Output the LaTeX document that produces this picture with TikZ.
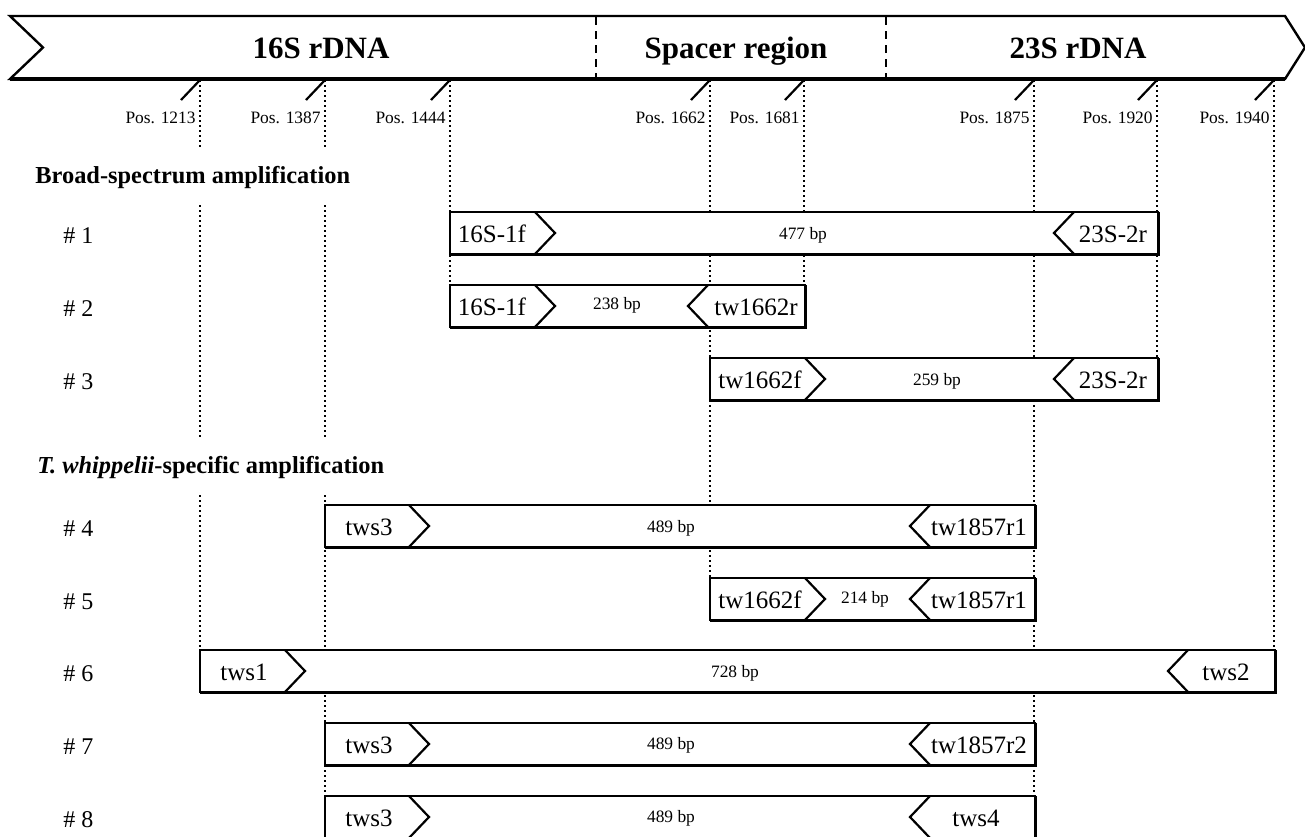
\documentclass[tikz,border=0pt]{standalone}
\usepackage{fontspec}
\setmainfont{Liberation Serif}
\newcommand\ampbox[4]{%
  \draw[boxframe] (#2,#4-21) rectangle (#3,#4+21);
  \draw[boxshade] (#2,#4+21) -- (#3,#4+21) -- (#3,#4-21);
  \coordinate (#1) at ({(#2+#3)/2},#4);}
\newcommand\fwdchev[2]{\draw[chev] (#1,#2-21) -- (#1+20,#2) -- (#1,#2+21);}
\newcommand\revchev[2]{\draw[chev] (#1,#2-21) -- (#1-20,#2) -- (#1,#2+21);}
\begin{document}
\begin{tikzpicture}[x=0.5pt,y=-0.5pt,
  boxframe/.style={line width=1pt,fill=white},
  boxshade/.style={line width=1.5pt},
  chev/.style={line width=1.1pt},
  banner/.style={line width=1.2pt,fill=white,line join=miter},
  divider/.style={line width=0.8pt,dash pattern=on 4pt off 3pt},
  tickline/.style={line width=1.1pt},
  dotline/.style={line width=0.9pt,dash pattern=on 0.9pt off 1.6pt},
  primer/.style={font=\fontsize{12.5}{14}\selectfont,inner sep=0pt},
  bplab/.style={font=\fontsize{8.7}{10}\selectfont,inner sep=0pt,anchor=base},
  poslab/.style={font=\fontsize{8.7}{10}\selectfont,inner sep=0pt,anchor=east},
  rowlab/.style={font=\fontsize{12}{14}\selectfont,anchor=west,inner sep=0pt},
  sect/.style={font=\bfseries\fontsize{12.2}{14}\selectfont,anchor=west,fill=white,inner xsep=2pt,inner ysep=8.5pt},
  region/.style={font=\bfseries\fontsize{15.5}{18}\selectfont,inner sep=0pt,anchor=base}]
\useasboundingbox (0,0) rectangle (1305,836);
% dotted position lines
\foreach \nm/\x/\yend in {d1213/200/651, d1387/325/836, d1444/450/306, d1662/710/599,
  d1681/804/306, d1875/1034/817, d1920/1157/379, d1940/1274/671}{
  \coordinate (\nm top) at (\x,80);
  \coordinate (\nm bot) at (\x,\yend);
  \draw[dotline] (\nm top) -- (\nm bot);
}
% banner
\draw[banner] (10,16) -- (1285,16) -- (1305,47.5) -- (1285,79) -- (10,79) -- (43,47.5) -- cycle;
\draw[line width=1.6pt] (10,79) -- (1285,79);
\coordinate (div1top) at (596,17); \coordinate (div1bot) at (596,78);
\coordinate (div2top) at (886,17); \coordinate (div2bot) at (886,78);
\draw[divider] (div1top) -- (div1bot);
\draw[divider] (div2top) -- (div2bot);
\node[region] (r16) at (321,58) {16S rDNA};
\node[region] (rsp) at (736,58) {Spacer region};
\node[region] (r23) at (1078,58) {23S rDNA};
% ticks and position labels
\foreach \nm/\x/\lab in {t1213/200/1213, t1387/325/1387, t1444/450/1444, t1662/710/1662,
  t1681/804/1681, t1875/1034/1875, t1920/1157/1920, t1940/1274/1940}{
  \coordinate (\nm a) at (\x,80);
  \coordinate (\nm b) at (\x-19,100);
  \draw[tickline] (\nm a) -- (\nm b);
  \node[poslab] (\nm lab) at (\x-4,118) {Pos. \lab};
}
% section titles
\node[sect] (sec1) at (31,177) {Broad-spectrum amplification};
\node[sect] (sec2) at (33,467) {\textit{T. whippelii}-specific amplification};
% row labels
\foreach \k/\y in {1/236,2/309,3/382,4/529,5/602,6/674,7/747,8/820}{
  \node[rowlab] (row\k) at (63,\y) {\# \k};
}
% #1
\ampbox{b1}{450}{1158}{233}
\fwdchev{535}{233} \revchev{1074}{233}
\node[primer] (b1f) at (492,234) {16S-1f};
\node[primer] (b1r) at (1113,234) {23S-2r};
\node[bplab] (b1bp) at (803,239) {477 bp};
% #2
\ampbox{b2}{450}{805}{306}
\fwdchev{535}{306} \revchev{708}{306}
\node[primer] (b2f) at (492,307) {16S-1f};
\node[primer] (b2r) at (756,307) {tw1662r};
\node[bplab] (b2bp) at (617,309) {238 bp};
% #3
\ampbox{b3}{710}{1158}{379}
\fwdchev{805}{379} \revchev{1074}{379}
\node[primer] (b3f) at (760,380) {tw1662f};
\node[primer] (b3r) at (1113,380) {23S-2r};
\node[bplab] (b3bp) at (937,385) {259 bp};
% #4
\ampbox{b4}{325}{1035}{526}
\fwdchev{409}{526} \revchev{930}{526}
\node[primer] (b4f) at (369,527) {tws3};
\node[primer] (b4r) at (979,527) {tw1857r1};
\node[bplab] (b4bp) at (671,532) {489 bp};
% #5
\ampbox{b5}{710}{1035}{599}
\fwdchev{805}{599} \revchev{930}{599}
\node[primer] (b5f) at (760,600) {tw1662f};
\node[primer] (b5r) at (979,600) {tw1857r1};
\node[bplab] (b5bp) at (865,603) {214 bp};
% #6
\ampbox{b6}{200}{1275}{671}
\fwdchev{285}{671} \revchev{1188}{671}
\node[primer] (b6f) at (244,672) {tws1};
\node[primer] (b6r) at (1226,672) {tws2};
\node[bplab] (b6bp) at (735,677) {728 bp};
% #7
\ampbox{b7}{325}{1035}{744}
\fwdchev{409}{744} \revchev{930}{744}
\node[primer] (b7f) at (369,745) {tws3};
\node[primer] (b7r) at (979,745) {tw1857r2};
\node[bplab] (b7bp) at (671,749) {489 bp};
% #8
\ampbox{b8}{325}{1035}{817}
\fwdchev{409}{817} \revchev{930}{817}
\node[primer] (b8f) at (369,818) {tws3};
\node[primer] (b8r) at (976,818) {tws4};
\node[bplab] (b8bp) at (671,822) {489 bp};
\end{tikzpicture}
\end{document}
